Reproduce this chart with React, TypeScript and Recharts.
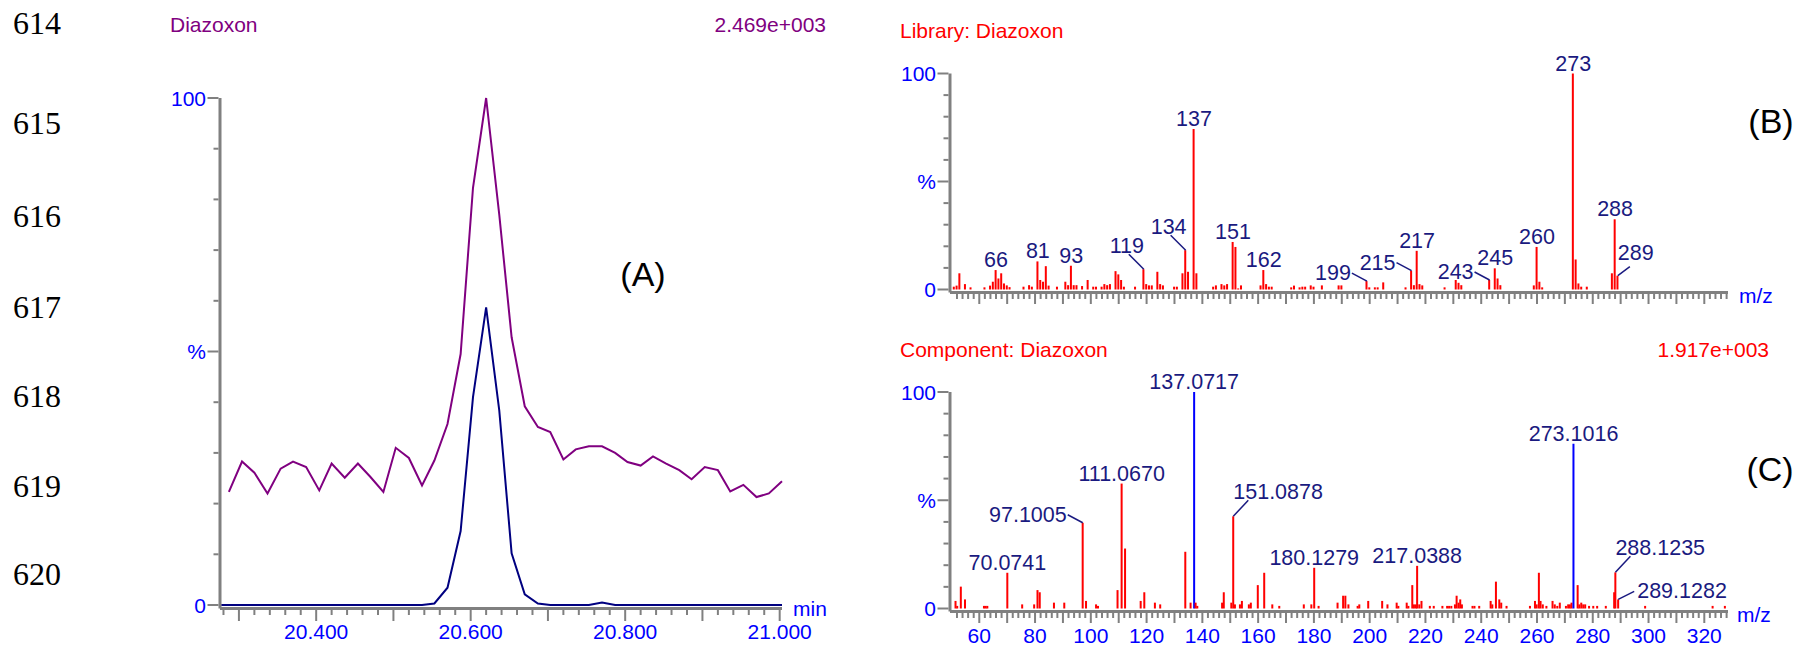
import React from 'react';
import { LineChart, Line, ComposedChart, Bar, Scatter, XAxis, YAxis } from 'recharts';

const SANS = '"Liberation Sans", Arial, Helvetica, sans-serif';
const SERIF = '"Liberation Serif", "Times New Roman", serif';
const GREY = '#808080';
const TICK_BLUE = '#0000ff';
const NAVY = '#1a1a80';
const PURPLE = '#800080';
const LINE_NAVY = '#000080';
const RED = '#ff0000';
const STICK_BLUE = '#0000ff';

// manuscript line numbers in the left margin
const lineNumbers = ['614', '615', '616', '617', '618', '619', '620'];

// (A) chromatogram, retention time in min, intensity in %
const retentionTimes = [
  20.287, 20.304, 20.320, 20.337, 20.354, 20.370, 20.387, 20.404, 20.420, 20.437,
  20.454, 20.470, 20.487, 20.503, 20.520, 20.537, 20.553, 20.570, 20.587, 20.603,
  20.620, 20.637, 20.653, 20.670, 20.687, 20.703, 20.720, 20.736, 20.753, 20.770,
  20.787, 20.803, 20.820, 20.836, 20.853, 20.870, 20.886, 20.903, 20.920, 20.936,
  20.953, 20.970, 20.986, 21.003,
];
const diazoxonTrace = [
  22.3, 28.3, 26.1, 22.0, 26.9, 28.3, 27.2, 22.6, 27.9, 25.1,
  27.9, 25.3, 22.3, 31.0, 29.0, 23.6, 28.5, 35.7, 49.5, 82.3,
  100, 77.0, 52.8, 39.2, 35.1, 34.1, 28.7, 30.7, 31.3, 31.3,
  30.0, 28.2, 27.5, 29.3, 27.9, 26.6, 24.8, 27.2, 26.6, 22.4,
  23.7, 21.3, 22.0, 24.4,
];
// the extracted trace starts one scan earlier, right at the axis
const extractedTimes = [20.277, ...retentionTimes];
const diazoxonExtracted = [
  0,
  0, 0, 0, 0, 0, 0, 0, 0, 0, 0,
  0, 0, 0, 0, 0, 0, 0.3, 3.4, 14.6, 41.0,
  58.7, 38.4, 10.2, 2.1, 0.3, 0, 0, 0, 0, 0.5,
  0, 0, 0, 0, 0, 0, 0, 0, 0, 0,
  0, 0, 0, 0,
];
const timeTicks = [
  20.28, 20.3, 20.32, 20.34, 20.36, 20.38, 20.4, 20.42, 20.44, 20.46, 20.48, 20.5,
  20.52, 20.54, 20.56, 20.58, 20.6, 20.62, 20.64, 20.66, 20.68, 20.7, 20.72, 20.74,
  20.76, 20.78, 20.8, 20.82, 20.84, 20.86, 20.88, 20.9, 20.92, 20.94, 20.96, 20.98, 21,
];
const pctTicks = [0, 10, 20, 30, 40, 50, 60, 70, 80, 90, 100];

// (B) library spectrum
const libraryMz = [
  51, 52, 53, 55, 57, 62, 64, 65, 66, 67, 68, 69, 70, 71, 76, 78, 79, 81, 82, 83,
  84, 85, 88, 91, 92, 93, 94, 95, 97, 99, 101, 102, 104, 105, 106, 107, 109, 110, 111, 112,
  116, 119, 120, 121, 122, 124, 125, 126, 130, 131, 133, 134, 135, 137, 138, 144, 145, 147, 148, 149,
  151, 152, 153, 154, 161, 162, 163, 164, 165, 172, 173, 175, 176, 177, 179, 180, 183, 189, 190, 199,
  200, 202, 203, 205, 213, 215, 216, 217, 218, 219, 227, 231, 232, 233, 243, 245, 246, 247, 259, 260,
  261, 262, 273, 274, 275, 276, 278, 287, 288, 289,
];
const libraryIntensity = [
  1.3, 1.8, 7.5, 2.5, 1.0, 1.0, 1.8, 3.6, 9.0, 5.1, 7.5, 2.8, 1.9, 1.1, 1.3, 2.0, 1.3, 13.0, 4.4, 3.6,
  10.8, 1.8, 1.3, 3.6, 2.0, 11.0, 2.0, 2.0, 1.6, 4.4, 1.3, 1.3, 1.3, 2.5, 2.0, 2.5, 8.5, 7.0, 4.4, 1.3,
  1.3, 9.4, 2.5, 1.9, 1.9, 8.2, 2.5, 1.9, 1.3, 1.3, 7.5, 18.2, 8.2, 74.3, 7.5, 1.3, 1.9, 2.5, 1.9, 2.5,
  22.0, 19.7, 0.5, 1.9, 1.9, 9.0, 2.5, 1.3, 1.3, 1.0, 1.8, 1.0, 1.3, 1.3, 1.9, 1.3, 1.9, 1.9, 1.9, 3.9,
  1.0, 1.0, 1.0, 3.3, 1.0, 8.7, 2.0, 17.9, 2.5, 1.9, 1.0, 4.4, 3.1, 2.0, 4.4, 9.8, 5.1, 2.0, 1.9, 19.7,
  3.6, 1.0, 100, 13.9, 2.8, 1.3, 1.3, 7.5, 32.5, 6.4,
];
const libraryLabelled = [66, 81, 93, 119, 134, 137, 151, 162, 199, 215, 217, 243, 245, 260, 273, 288, 289];

// (C) component spectrum
const componentMz = [
  51.5, 52.1, 53.4, 54.9, 61.7, 62.3, 62.9, 70.0741, 75.4, 79.7,
  80.9, 81.7, 86.8, 90.5, 97.1005, 98.3, 101.9, 102.6, 109.6, 111.067,
  112.3, 117.9, 119.2, 123.0, 124.9, 133.9, 135.8, 137.0717, 137.6, 138.2,
  147.1, 147.7, 150.4, 151.0878, 151.7, 153.5, 154.2, 156.7, 157.4, 159.9,
  162.2, 165.1, 167.6, 176.4, 179.1, 180.1279, 181.7, 188.5, 190.5, 191.3,
  192.4, 195.7, 196.3, 199.5, 204.5, 206.4, 209.7, 210.3, 213.3, 213.9,
  215.3, 215.9, 216.6, 217.0388, 217.8, 218.6, 221.6, 223.0, 226.1, 227.8,
  228.5, 229.3, 230.6, 231.2, 231.9, 232.5, 233.1, 236.9, 237.6, 239.3,
  243.4, 244.0, 245.3, 246.5, 247.2, 249.1, 257.5, 259.3, 259.9, 260.7,
  261.3, 262.1, 263.4, 265.6, 266.4, 267.3, 268.2, 270.4, 271.2, 271.8,
  272.4, 273.1016, 274.6, 275.2, 275.9, 276.6, 277.3, 278.7, 280.2, 281.6,
  284.7, 287.7, 288.1235, 289.1282, 298.8, 323.0, 327.4,
];
const componentIntensity = [
  3.5, 1.2, 10.1, 4.2, 1.2, 1.2, 1.2, 16.5, 1.9, 1.9,
  8.5, 7.5, 2.7, 2.7, 39.6, 3.5, 1.9, 1.2, 8.5, 57.7,
  27.7, 3.5, 7.5, 2.7, 1.9, 26.2, 2.7, 100, 2.7, 1.2,
  2.7, 7.5, 2.7, 42.6, 1.9, 1.9, 3.5, 1.9, 2.7, 10.8,
  16.5, 1.9, 1.2, 1.9, 1.9, 18.8, 1.2, 2.7, 5.9, 5.9,
  1.9, 1.2, 1.9, 3.5, 3.5, 1.9, 2.7, 1.2, 2.7, 1.2,
  10.8, 1.9, 1.9, 19.7, 1.9, 3.5, 1.2, 1.2, 1.2, 1.2,
  1.2, 1.2, 1.9, 5.9, 2.7, 4.2, 1.9, 1.2, 1.2, 1.2,
  3.5, 1.9, 12.4, 4.2, 2.7, 1.2, 1.2, 3.5, 1.9, 16.5,
  3.5, 1.9, 1.2, 3.5, 1.9, 1.2, 2.7, 1.2, 1.9, 1.9,
  2.7, 76.1, 10.8, 1.9, 2.7, 1.9, 1.9, 1.2, 1.2, 1.2,
  1.2, 7.5, 16.7, 4.2, 1.2, 1.2, 1.2,
];
const componentLabelled = [70.0741, 97.1005, 111.067, 137.0717, 151.0878, 180.1279, 217.0388, 273.1016, 288.1235, 289.1282];
const componentHighlighted = [137.0717, 273.1016];

const mzTicks = Array.from({ length: 139 }, (_, i) => 52 + i * 2);

// how a peak annotation sits against the top of its stick
type Placement = { lead?: [number, number]; tx: number; ty: number; anchor: 'start' | 'middle' | 'end' };
const placements: Record<string, Placement> = {
  top: { tx: 0, ty: -3, anchor: 'middle' },
  upLeft: { lead: [-15, -15], tx: -17, ty: -16, anchor: 'middle' },
  left: { lead: [-15, -8], tx: -16, ty: -1, anchor: 'end' },
  upRight: { lead: [15, -16], tx: 0, ty: -17, anchor: 'start' },
  upRightShort: { lead: [12, -9], tx: 0, ty: -16, anchor: 'start' },
  right: { lead: [16, -8], tx: 19, ty: -1, anchor: 'start' },
};
const labelPlacement: Record<string, string> = {
  '119': 'upLeft',
  '134': 'upLeft',
  '199': 'left',
  '215': 'left',
  '243': 'left',
  '289': 'upRightShort',
  '97.1005': 'left',
  '151.0878': 'upRight',
  '288.1235': 'upRight',
  '289.1282': 'right',
};

const traceRows = retentionTimes.map((t, i) => ({ t, v: diazoxonTrace[i] }));
const extractedRows = extractedTimes.map((t, i) => ({ t, v: diazoxonExtracted[i] }));
const libraryRows = libraryMz.map((mz, i) => ({ mz, int: libraryIntensity[i] }));
const libraryLabelRows = libraryLabelled.map((mz) => ({ mz, int: libraryIntensity[libraryMz.indexOf(mz)], text: String(mz) }));
const componentRows = componentMz.map((mz, i) => ({ mz, int: componentIntensity[i] }));
const componentLabelRows = componentLabelled.map((mz) => ({
  mz,
  int: componentIntensity[componentMz.indexOf(mz)],
  text: mz.toFixed(4),
}));

function PctTick(props: any) {
  const { x, y, payload } = props;
  const v = payload.value;
  const label = v === 100 ? '100' : v === 50 ? '%' : v === 0 ? '0' : null;
  const len = label ? 11 : 5;
  return (
    <g>
      <line x1={x - 1.5} x2={x - 1.5 - len} y1={y} y2={y} stroke={GREY} strokeWidth={2} />
      {label && (
        <text x={x - 14} y={y + 7.5} textAnchor="end" fill={TICK_BLUE} fontSize={21} fontFamily={SANS}>
          {label}
        </text>
      )}
    </g>
  );
}

function TimeTick(props: any) {
  const { x, y, payload } = props;
  const h = Math.round(payload.value * 100);
  const len = h % 10 === 0 ? 11 : 5;
  return (
    <g>
      <line x1={x} x2={x} y1={y + 1.5} y2={y + 1.5 + len} stroke={GREY} strokeWidth={2} />
      {h % 20 === 0 && (
        <text x={x} y={y + 30.5} textAnchor="middle" fill={TICK_BLUE} fontSize={21} fontFamily={SANS}>
          {payload.value.toFixed(3)}
        </text>
      )}
    </g>
  );
}

const makeMzTick = (withLabels: boolean) => (props: any) => {
  const { x, y, payload } = props;
  const v = payload.value;
  const len = v % 10 === 0 ? 10 : 5;
  return (
    <g>
      <line x1={x} x2={x} y1={y + 1.5} y2={y + 1.5 + len} stroke={GREY} strokeWidth={2} />
      {withLabels && v % 20 === 0 && (
        <text x={x} y={y + 31} textAnchor="middle" fill={TICK_BLUE} fontSize={21} fontFamily={SANS}>
          {v}
        </text>
      )}
    </g>
  );
};

const makeStick = (highlighted: number[]) => (props: any) => {
  const { x, y, width, height, payload } = props;
  if (![x, y, width, height].every((n) => Number.isFinite(n))) return <g />;
  const cx = x + width / 2;
  const color = highlighted.includes(payload.mz) ? STICK_BLUE : RED;
  return <rect x={cx - 1} y={y} width={2} height={Math.max(height, 0)} fill={color} />;
};

function PeakLabel(props: any) {
  const { cx, cy, payload } = props;
  if (!Number.isFinite(cx) || !Number.isFinite(cy)) return <g />;
  const p = placements[labelPlacement[payload.text] ?? 'top'];
  return (
    <g>
      {p.lead && (
        <line x1={cx} y1={cy} x2={cx + p.lead[0]} y2={cy + p.lead[1]} stroke={NAVY} strokeWidth={1.5} />
      )}
      <text x={cx + p.tx} y={cy + p.ty} textAnchor={p.anchor} fill={NAVY} fontSize={21.5} fontFamily={SANS}>
        {payload.text}
      </text>
    </g>
  );
}

const axisLine = { stroke: GREY, strokeWidth: 3 };

function SpectrumPanel(props: {
  rows: { mz: number; int: number }[];
  labels: { mz: number; int: number; text: string }[];
  highlighted: number[];
  height: number;
  top: number;
  bottom: number;
  yMin: number;
  tickLabels: boolean;
}) {
  return (
    <ComposedChart
      width={943}
      height={props.height}
      data={props.rows}
      margin={{ top: props.top, right: 75, bottom: props.bottom, left: 30 }}
    >
      <XAxis
        dataKey="mz"
        type="number"
        domain={[49.5, 328.5]}
        ticks={mzTicks}
        interval={0}
        height={30}
        tickSize={0}
        tickMargin={0}
        tickLine={false}
        axisLine={axisLine}
        tick={makeMzTick(props.tickLabels)}
      />
      <YAxis
        type="number"
        domain={[props.yMin, 100]}
        ticks={pctTicks}
        interval={0}
        width={60}
        tickSize={0}
        tickMargin={0}
        tickLine={false}
        axisLine={axisLine}
        tick={PctTick}
      />
      <Bar dataKey="int" barSize={2} shape={makeStick(props.highlighted)} isAnimationActive={false} />
      <Scatter data={props.labels} dataKey="int" shape={PeakLabel} isAnimationActive={false} />
    </ComposedChart>
  );
}

export default function App() {
  const lineNumberBaselines = [34, 134, 227, 318, 407, 497, 585];
  return (
    <div style={{ position: 'absolute', left: 0, top: 0, width: 1803, height: 647, background: '#fff' }}>
      <div style={{ position: 'absolute', left: 0, top: 0 }}>
        <LineChart width={860} height={647} margin={{ top: 98, right: 78, bottom: 8.5, left: 160 }}>
          <XAxis
            dataKey="t"
            type="number"
            domain={[20.2755, 21.003]}
            ticks={timeTicks}
            interval={0}
            height={30}
            tickSize={0}
            tickMargin={0}
            tickLine={false}
            axisLine={axisLine}
            tick={TimeTick}
          />
          <YAxis
            type="number"
            domain={[-0.69, 100]}
            ticks={pctTicks}
            interval={0}
            width={60}
            tickSize={0}
            tickMargin={0}
            tickLine={false}
            axisLine={axisLine}
            tick={PctTick}
          />
          <Line data={traceRows} type="linear" dataKey="v" stroke={PURPLE} strokeWidth={2} dot={false} isAnimationActive={false} />
          <Line data={extractedRows} type="linear" dataKey="v" stroke={LINE_NAVY} strokeWidth={2} dot={false} isAnimationActive={false} />
        </LineChart>
      </div>
      <div style={{ position: 'absolute', left: 860, top: 0 }}>
        <SpectrumPanel
          rows={libraryRows}
          labels={libraryLabelRows}
          highlighted={[]}
          height={330}
          top={73.5}
          bottom={7.5}
          yMin={-1.39}
          tickLabels={false}
        />
      </div>
      <div style={{ position: 'absolute', left: 860, top: 330 }}>
        <SpectrumPanel
          rows={componentRows}
          labels={componentLabelRows}
          highlighted={componentHighlighted}
          height={317}
          top={62}
          bottom={5.5}
          yMin={-1.386}
          tickLabels={true}
        />
      </div>
      <svg
        width={1803}
        height={647}
        style={{ position: 'absolute', left: 0, top: 0, pointerEvents: 'none' }}
      >
        {lineNumbers.map((n, i) => (
          <text key={n} x={13} y={lineNumberBaselines[i]} fontSize={32} fontFamily={SERIF} fill="#000">
            {n}
          </text>
        ))}
        <g fontFamily={SANS} fontSize={21}>
          <text x={170} y={32} fill={PURPLE}>Diazoxon</text>
          <text x={826} y={32} fill={PURPLE} textAnchor="end">2.469e+003</text>
          <text x={900} y={38} fill={RED}>Library: Diazoxon</text>
          <text x={900} y={357} fill={RED}>Component: Diazoxon</text>
          <text x={1769} y={357} fill={RED} textAnchor="end">1.917e+003</text>
          <text x={793} y={615.5} fill={TICK_BLUE}>min</text>
          <text x={1739} y={303} fill={TICK_BLUE}>m/z</text>
          <text x={1737} y={622} fill={TICK_BLUE}>m/z</text>
        </g>
        <g fontFamily={SANS} fontSize={34} fill="#000" textAnchor="middle">
          <text x={643} y={286}>(A)</text>
          <text x={1771} y={133}>(B)</text>
          <text x={1770} y={481}>(C)</text>
        </g>
      </svg>
    </div>
  );
}
